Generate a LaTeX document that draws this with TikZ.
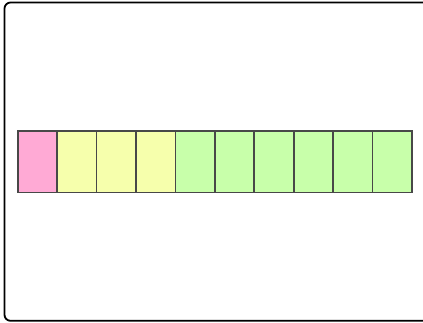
\documentclass[tikz,border=0pt]{standalone}
\definecolor{cpink}{RGB}{255,170,213}
\definecolor{cyellow}{RGB}{246,255,172}
\definecolor{cgreen}{RGB}{200,255,170}
\definecolor{cedge}{RGB}{72,72,72}
\tikzset{
  cell/.style={draw=cedge, line width=1.6pt, minimum width=39.43pt, minimum height=61.6pt, inner sep=0pt, outer sep=0pt, anchor=north west},
  frame/.style={draw=black, line width=1.8pt, rounded corners=6pt}
}
\begin{document}
\begin{tikzpicture}[x=1pt,y=-1pt]
\useasboundingbox (0,0) rectangle (423,322);
\draw[frame] (4.5,2.5) rectangle (432,320.8);
\foreach \i/\c in {0/cpink,1/cyellow,2/cyellow,3/cyellow,4/cgreen,5/cgreen,6/cgreen,7/cgreen,8/cgreen,9/cgreen}{
  \node[cell, fill=\c] (c\i) at ({17.7+39.43*\i},130.7) {};
}
\end{tikzpicture}
\end{document}
